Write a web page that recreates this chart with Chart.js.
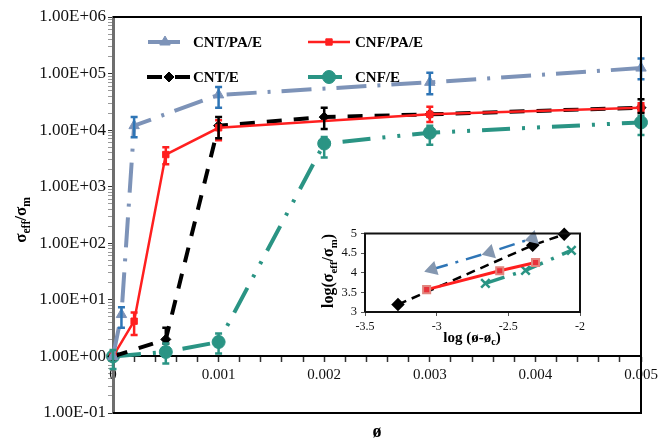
<!DOCTYPE html>
<html><head><meta charset="utf-8">
<script src="https://cdn.jsdelivr.net/npm/chart.js@4.4.1/dist/chart.umd.min.js"></script>
<style>
html,body{margin:0;padding:0;background:#fff;}
#wrap{position:relative;width:672px;height:440px;overflow:hidden;}
#main{position:absolute;left:0;top:0;}
#inset{position:absolute;left:320px;top:222px;}
</style></head><body>
<div id="wrap">
<canvas id="main" width="672" height="440"></canvas>
<canvas id="inset" width="270" height="125"></canvas>
</div>
<script>
// ---------------- data ----------------
const seriesNames = ['CNT/PA/E', 'CNF/PA/E', 'CNT/E', 'CNF/E'];

const xCNTPAE  = [0, 0.00008, 0.0002, 0.001, 0.003, 0.005];
const yCNTPAE  = [1, 5.5, 1.2e4, 4.2e4, 7.0e4, 1.25e5];
const loCNTPAE = [null, 3.2, 7.5e3, 2.5e4, 4.3e4, 7.9e4];
const hiCNTPAE = [null, 7.4, 1.7e4, 5.8e4, 1.03e5, 1.85e5];

const xCNFPAE  = [0, 0.0002, 0.0005, 0.001, 0.003, 0.005];
const yCNFPAE  = [1, 4.2, 3.7e3, 1.1e4, 1.9e4, 2.5e4];
const loCNFPAE = [null, 2.4, 2.5e3, 6.6e3, 1.4e4, 2.1e4];
const hiCNFPAE = [null, 6.0, 5.0e3, 1.5e4, 2.6e4, 3.0e4];

const xCNTE  = [0, 0.0005, 0.001, 0.002, 0.003, 0.005];
const yCNTE  = [1, 2.0, 1.2e4, 1.7e4, 1.9e4, 2.5e4];
const loCNTE = [null, 1.7, 7.2e3, 1.05e4, null, 2.0e4];
const hiCNTE = [null, 3.2, 1.7e4, 2.5e4, null, 3.5e4];

const xCNFE  = [0, 0.0005, 0.001, 0.002, 0.003, 0.005];
const yCNFE  = [1, 1.2, 1.8, 5.8e3, 9.0e3, 1.37e4];
const loCNFE = [0.6, 0.75, 1.13, 3.3e3, 5.5e3, 8.2e3];
const hiCNFE = [1.3, 1.7, 2.55, 7.6e3, 1.2e4, 1.8e4];

const xTickValues = [0, 0.001, 0.002, 0.003, 0.004, 0.005];
const xTickLabels = ['0', '0.001', '0.002', '0.003', '0.004', '0.005'];
const yTickValues = [0.1, 1, 10, 100, 1000, 10000, 100000, 1000000];
const yTickLabels = ['1.00E-01', '1.00E+00', '1.00E+01', '1.00E+02', '1.00E+03', '1.00E+04', '1.00E+05', '1.00E+06'];

// inset: log(sigma_eff/sigma_m) vs log(phi - phi_c)
const insXCNTPAE = [-3.03, -2.63, -2.33];
const insYCNTPAE = [4.09, 4.52, 4.88];
const insXCNFPAE = [-3.07, -2.56, -2.31];
const insYCNFPAE = [3.57, 4.05, 4.26];
const insXCNTE   = [-3.27, -2.33, -2.11];
const insYCNTE   = [3.19, 4.70, 4.98];
const insXCNFE   = [-2.66, -2.38, -2.06];
const insYCNFE   = [3.73, 4.06, 4.57];

const insXTickValues = [-3.5, -3, -2.5, -2];
const insXTickLabels = ['-3.5', '-3', '-2.5', '-2'];
const insYTickValues = [3, 3.5, 4, 4.5, 5];
const insYTickLabels = ['3', '3.5', '4', '4.5', '5'];

// ---------------- helpers ----------------
const SERIF = "'Liberation Serif', 'Times New Roman', serif";
const pts = (xs, ys) => xs.map((x, i) => ({x: x, y: ys[i]}));
const near = (a, b) => Math.abs(a - b) < 1e-9;

function drawRich(ctx, parts, cx, cy, rot, size) {
  ctx.save();
  ctx.translate(cx, cy);
  ctx.rotate(rot);
  const fnt = s => 'bold ' + s + 'px ' + SERIF;
  let total = 0;
  const ws = parts.map(p => { ctx.font = fnt(p.sub ? size * 0.68 : size); const w = ctx.measureText(p.t).width; total += w; return w; });
  let x = -total / 2;
  ctx.textBaseline = 'middle';
  ctx.textAlign = 'left';
  ctx.fillStyle = '#000';
  parts.forEach((p, i) => {
    ctx.font = fnt(p.sub ? size * 0.68 : size);
    ctx.fillText(p.t, x, p.sub ? size * 0.32 : 0);
    x += ws[i];
  });
  ctx.restore();
}

const errorBarPlugin = {
  id: 'errbars',
  afterDatasetsDraw(chart) {
    const ctx = chart.ctx, xs = chart.scales.x, ys = chart.scales.y;
    chart.data.datasets.forEach(ds => {
      if (!ds.errLow) return;
      ctx.save();
      ctx.strokeStyle = ds.errColor;
      ctx.lineWidth = 2.5;
      ctx.setLineDash([]);
      ds.data.forEach((p, i) => {
        const lo = ds.errLow[i], hi = ds.errHigh[i];
        if (lo == null || hi == null) return;
        const px = xs.getPixelForValue(p.x);
        const y1 = ys.getPixelForValue(lo), y2 = ys.getPixelForValue(hi);
        ctx.beginPath();
        ctx.moveTo(px, y1); ctx.lineTo(px, y2);
        ctx.moveTo(px - 3.5, y1); ctx.lineTo(px + 3.5, y1);
        ctx.moveTo(px - 3.5, y2); ctx.lineTo(px + 3.5, y2);
        ctx.stroke();
      });
      ctx.restore();
    });
  }
};

const framePlugin = {
  id: 'frame',
  afterDraw(chart, args, opts) {
    const a = chart.chartArea, ctx = chart.ctx;
    ctx.save();
    ctx.strokeStyle = opts.color || '#000';
    ctx.lineWidth = opts.width || 2;
    ctx.beginPath();
    if (opts.left) { ctx.moveTo(a.left, a.bottom); ctx.lineTo(a.left, a.top); } else { ctx.moveTo(a.left, a.top); }
    ctx.lineTo(a.right, a.top);
    ctx.lineTo(a.right, a.bottom);
    ctx.lineTo(a.left, a.bottom);
    ctx.stroke();
    ctx.restore();
  }
};

const textPlugin = {
  id: 'richTexts',
  afterDraw(chart, args, opts) {
    (opts.items || []).forEach(it => drawRich(chart.ctx, it.parts, it.x, it.y, it.rot || 0, it.size));
  }
};

const legendPlugin = {
  id: 'insideLegend',
  afterDatasetsDraw(chart, args, opts) {
    const ctx = chart.ctx;
    (opts.items || []).forEach(it => {
      const ds = chart.data.datasets[it.index];
      ctx.save();
      ctx.strokeStyle = ds.borderColor;
      ctx.lineWidth = ds.borderWidth;
      ctx.setLineDash(it.dash || []);
      ctx.beginPath(); ctx.moveTo(it.x0, it.y); ctx.lineTo(it.x1, it.y); ctx.stroke();
      ctx.setLineDash([]);
      ctx.fillStyle = ds.pointBackgroundColor;
      ctx.strokeStyle = ds.pointBorderColor;
      ctx.lineWidth = ds.pointBorderWidth || 1;
      Chart.helpers.drawPoint(ctx, {pointStyle: ds.pointStyle, radius: ds.pointRadius, borderWidth: ds.pointBorderWidth || 1, rotation: ds.pointRotation || 0}, it.mx, it.y);
      ctx.font = 'bold 15px ' + SERIF;
      ctx.fillStyle = '#000';
      ctx.textBaseline = 'middle';
      ctx.textAlign = 'left';
      ctx.fillText(ds.label, it.tx, it.y + 1);
      ctx.restore();
    });
  }
};

// ---------------- main chart ----------------
const cBlueGray = '#7d93b8', cRed = '#ff1f1f', cBlack = '#000000', cTeal = '#2a9484', cErrBlue = '#2e75b6';

const xAllTicks = [];
for (let i = 0; i <= 25; i++) xAllTicks.push(+(i * 0.0002).toFixed(6));
const yAllTicks = [];
for (let e = -1; e <= 5; e++) for (let m = 1; m <= 9; m++) yAllTicks.push(+(m * Math.pow(10, e)).toPrecision(3));
yAllTicks.push(1e6);

new Chart(document.getElementById('main'), {
  type: 'line',
  data: {
    datasets: [
      {label: seriesNames[0], data: pts(xCNTPAE, yCNTPAE), errLow: loCNTPAE, errHigh: hiCNTPAE, errColor: cErrBlue,
       borderColor: cBlueGray, borderWidth: 4, borderDash: [30, 11, 3, 11], pointStyle: 'triangle', pointRadius: 6,
       pointBackgroundColor: cBlueGray, pointBorderColor: cBlueGray, pointBorderWidth: 1, tension: 0, clip: false},
      {label: seriesNames[1], data: pts(xCNFPAE, yCNFPAE), errLow: loCNFPAE, errHigh: hiCNFPAE, errColor: cRed,
       borderColor: cRed, borderWidth: 2.5, pointStyle: 'rect', pointRadius: 4.5,
       pointBackgroundColor: cRed, pointBorderColor: cRed, pointBorderWidth: 1, tension: 0, clip: false},
      {label: seriesNames[2], data: pts(xCNTE, yCNTE), errLow: loCNTE, errHigh: hiCNTE, errColor: cBlack,
       borderColor: cBlack, borderWidth: 4, borderDash: [15, 12], pointStyle: 'rectRot', pointRadius: 5,
       pointBackgroundColor: cBlack, pointBorderColor: cBlack, pointBorderWidth: 1, tension: 0, clip: false},
      {label: seriesNames[3], data: pts(xCNFE, yCNFE), errLow: loCNFE, errHigh: hiCNFE, errColor: cTeal,
       borderColor: cTeal, borderWidth: 4, borderDash: [28, 12, 3, 12, 3, 12], pointStyle: 'circle', pointRadius: 6.5,
       pointBackgroundColor: cTeal, pointBorderColor: cTeal, pointBorderWidth: 1, tension: 0, clip: false}
    ]
  },
  options: {
    responsive: false, animation: false, devicePixelRatio: 1,
    layout: {padding: {left: 0, top: 17, right: 31, bottom: 27}},
    plugins: {
      legend: {display: false}, tooltip: {enabled: false},
      frame: {color: '#000', width: 2, left: false},
      insideLegend: {items: [
        {index: 0, x0: 148, x1: 180, mx: 165, tx: 193, y: 42},
        {index: 1, x0: 308, x1: 350, mx: 329, tx: 355, y: 42},
        {index: 2, x0: 147, x1: 190, mx: 169, tx: 193, y: 77, dash: [15, 13]},
        {index: 3, x0: 308, x1: 342, mx: 329, tx: 355, y: 77}
      ]},
      richTexts: {items: [
        {parts: [{t: 'σ'}, {t: 'eff', sub: true}, {t: '/σ'}, {t: 'm', sub: true}], x: 22, y: 220, rot: -Math.PI / 2, size: 17},
        {parts: [{t: 'ø'}], x: 377, y: 432, rot: 0, size: 18}
      ]}
    },
    scales: {
      x: {
        type: 'linear', min: 0, max: 0.005, position: {y: 1},
        afterBuildTicks: s => { s.ticks = xAllTicks.map(v => ({value: v})); },
        ticks: {autoSkip: false, maxRotation: 0, color: '#111', padding: 5,
          font: {family: SERIF, size: 15},
          callback: v => { const i = xTickValues.findIndex(t => near(t, v)); return i >= 0 ? xTickLabels[i] : ''; }},
        grid: {drawOnChartArea: false, drawTicks: true, tickLength: 5, tickColor: '#333', tickWidth: 1.5},
        border: {display: true, color: '#000', width: 2}
      },
      y: {
        type: 'logarithmic', min: 0.1, max: 1e6, position: 'left',
        afterFit: s => { s.width = 113; },
        afterBuildTicks: s => { s.ticks = yAllTicks.map(v => ({value: v})); },
        ticks: {autoSkip: false, color: '#111', padding: 2,
          font: {family: SERIF, size: 17},
          callback: v => { const i = yTickValues.findIndex(t => Math.abs(t - v) / t < 1e-6); return i >= 0 ? yTickLabels[i] : ''; }},
        grid: {drawOnChartArea: false, tickLength: 5,
          tickColor: c => (c.tick && yTickValues.some(t => Math.abs(t - c.tick.value) / t < 1e-6)) ? '#333' : '#999'},
        border: {display: true, color: '#6e6e6e', width: 3}
      }
    }
  },
  plugins: [errorBarPlugin, framePlugin, textPlugin, legendPlugin]
});

// ---------------- inset chart ----------------
const cInsBlue = '#2e75b6', cInsTri = '#8497b0', cInsSq = '#e2857e';

new Chart(document.getElementById('inset'), {
  type: 'line',
  data: {
    datasets: [
      {label: seriesNames[0], data: pts(insXCNTPAE, insYCNTPAE), borderColor: cInsBlue, borderWidth: 2.5,
       borderDash: [16, 8, 3, 8], pointStyle: 'triangle', pointRotation: -107, pointRadius: 6,
       pointBackgroundColor: cInsTri, pointBorderColor: cInsTri, tension: 0, clip: false},
      {label: seriesNames[1], data: pts(insXCNFPAE, insYCNFPAE), borderColor: cRed, borderWidth: 3,
       pointStyle: 'rect', pointRadius: 5, pointBackgroundColor: '#e8323a', pointBorderColor: cInsSq, pointBorderWidth: 2,
       tension: 0, clip: false},
      {label: seriesNames[2], data: pts(insXCNTE, insYCNTE), borderColor: cBlack, borderWidth: 2.5,
       borderDash: [9, 6], pointStyle: 'rectRot', pointRadius: 5, pointBackgroundColor: cBlack, pointBorderColor: cBlack,
       tension: 0, clip: false},
      {label: seriesNames[3], data: pts(insXCNFE, insYCNFE), borderColor: cTeal, borderWidth: 3.5,
       borderDash: [20, 9, 3, 9], pointStyle: 'crossRot', pointRadius: 6, pointBackgroundColor: cTeal, pointBorderColor: cTeal,
       pointBorderWidth: 2.5, tension: 0, clip: false}
    ]
  },
  options: {
    responsive: false, animation: false, devicePixelRatio: 1,
    layout: {padding: {left: 0, top: 7, right: 10, bottom: 0}},
    plugins: {
      legend: {display: false}, tooltip: {enabled: false},
      frame: {color: '#111', width: 2, left: true},
      richTexts: {items: [
        {parts: [{t: 'log('}, {t: 'σ'}, {t: 'eff', sub: true}, {t: '/σ'}, {t: 'm', sub: true}, {t: ')'}], x: 9, y: 49, rot: -Math.PI / 2, size: 16},
        {parts: [{t: 'log (ø-ø'}, {t: 'c', sub: true}, {t: ')'}], x: 152, y: 116, rot: 0, size: 15}
      ]}
    },
    scales: {
      x: {
        type: 'linear', min: -3.5, max: -2, position: 'bottom',
        afterFit: s => { s.height = 35; },
        afterBuildTicks: s => { s.ticks = insXTickValues.map(v => ({value: v})); },
        ticks: {autoSkip: false, maxRotation: 0, color: '#111', padding: 4, font: {family: SERIF, size: 12},
          callback: v => { const i = insXTickValues.findIndex(t => near(t, v)); return i >= 0 ? insXTickLabels[i] : ''; }},
        grid: {drawOnChartArea: false, tickLength: 4, tickColor: '#555'},
        border: {display: true, color: '#555', width: 2}
      },
      y: {
        type: 'linear', min: 3, max: 5, position: 'left',
        afterFit: s => { s.width = 45; },
        afterBuildTicks: s => { s.ticks = insYTickValues.map(v => ({value: v})); },
        ticks: {autoSkip: false, color: '#111', padding: 4, font: {family: SERIF, size: 12.5},
          callback: v => { const i = insYTickValues.findIndex(t => near(t, v)); return i >= 0 ? insYTickLabels[i] : ''; }},
        grid: {drawOnChartArea: false, tickLength: 4, tickColor: '#555'},
        border: {display: true, color: '#555', width: 2}
      }
    }
  },
  plugins: [framePlugin, textPlugin]
});
</script>
</body></html>
